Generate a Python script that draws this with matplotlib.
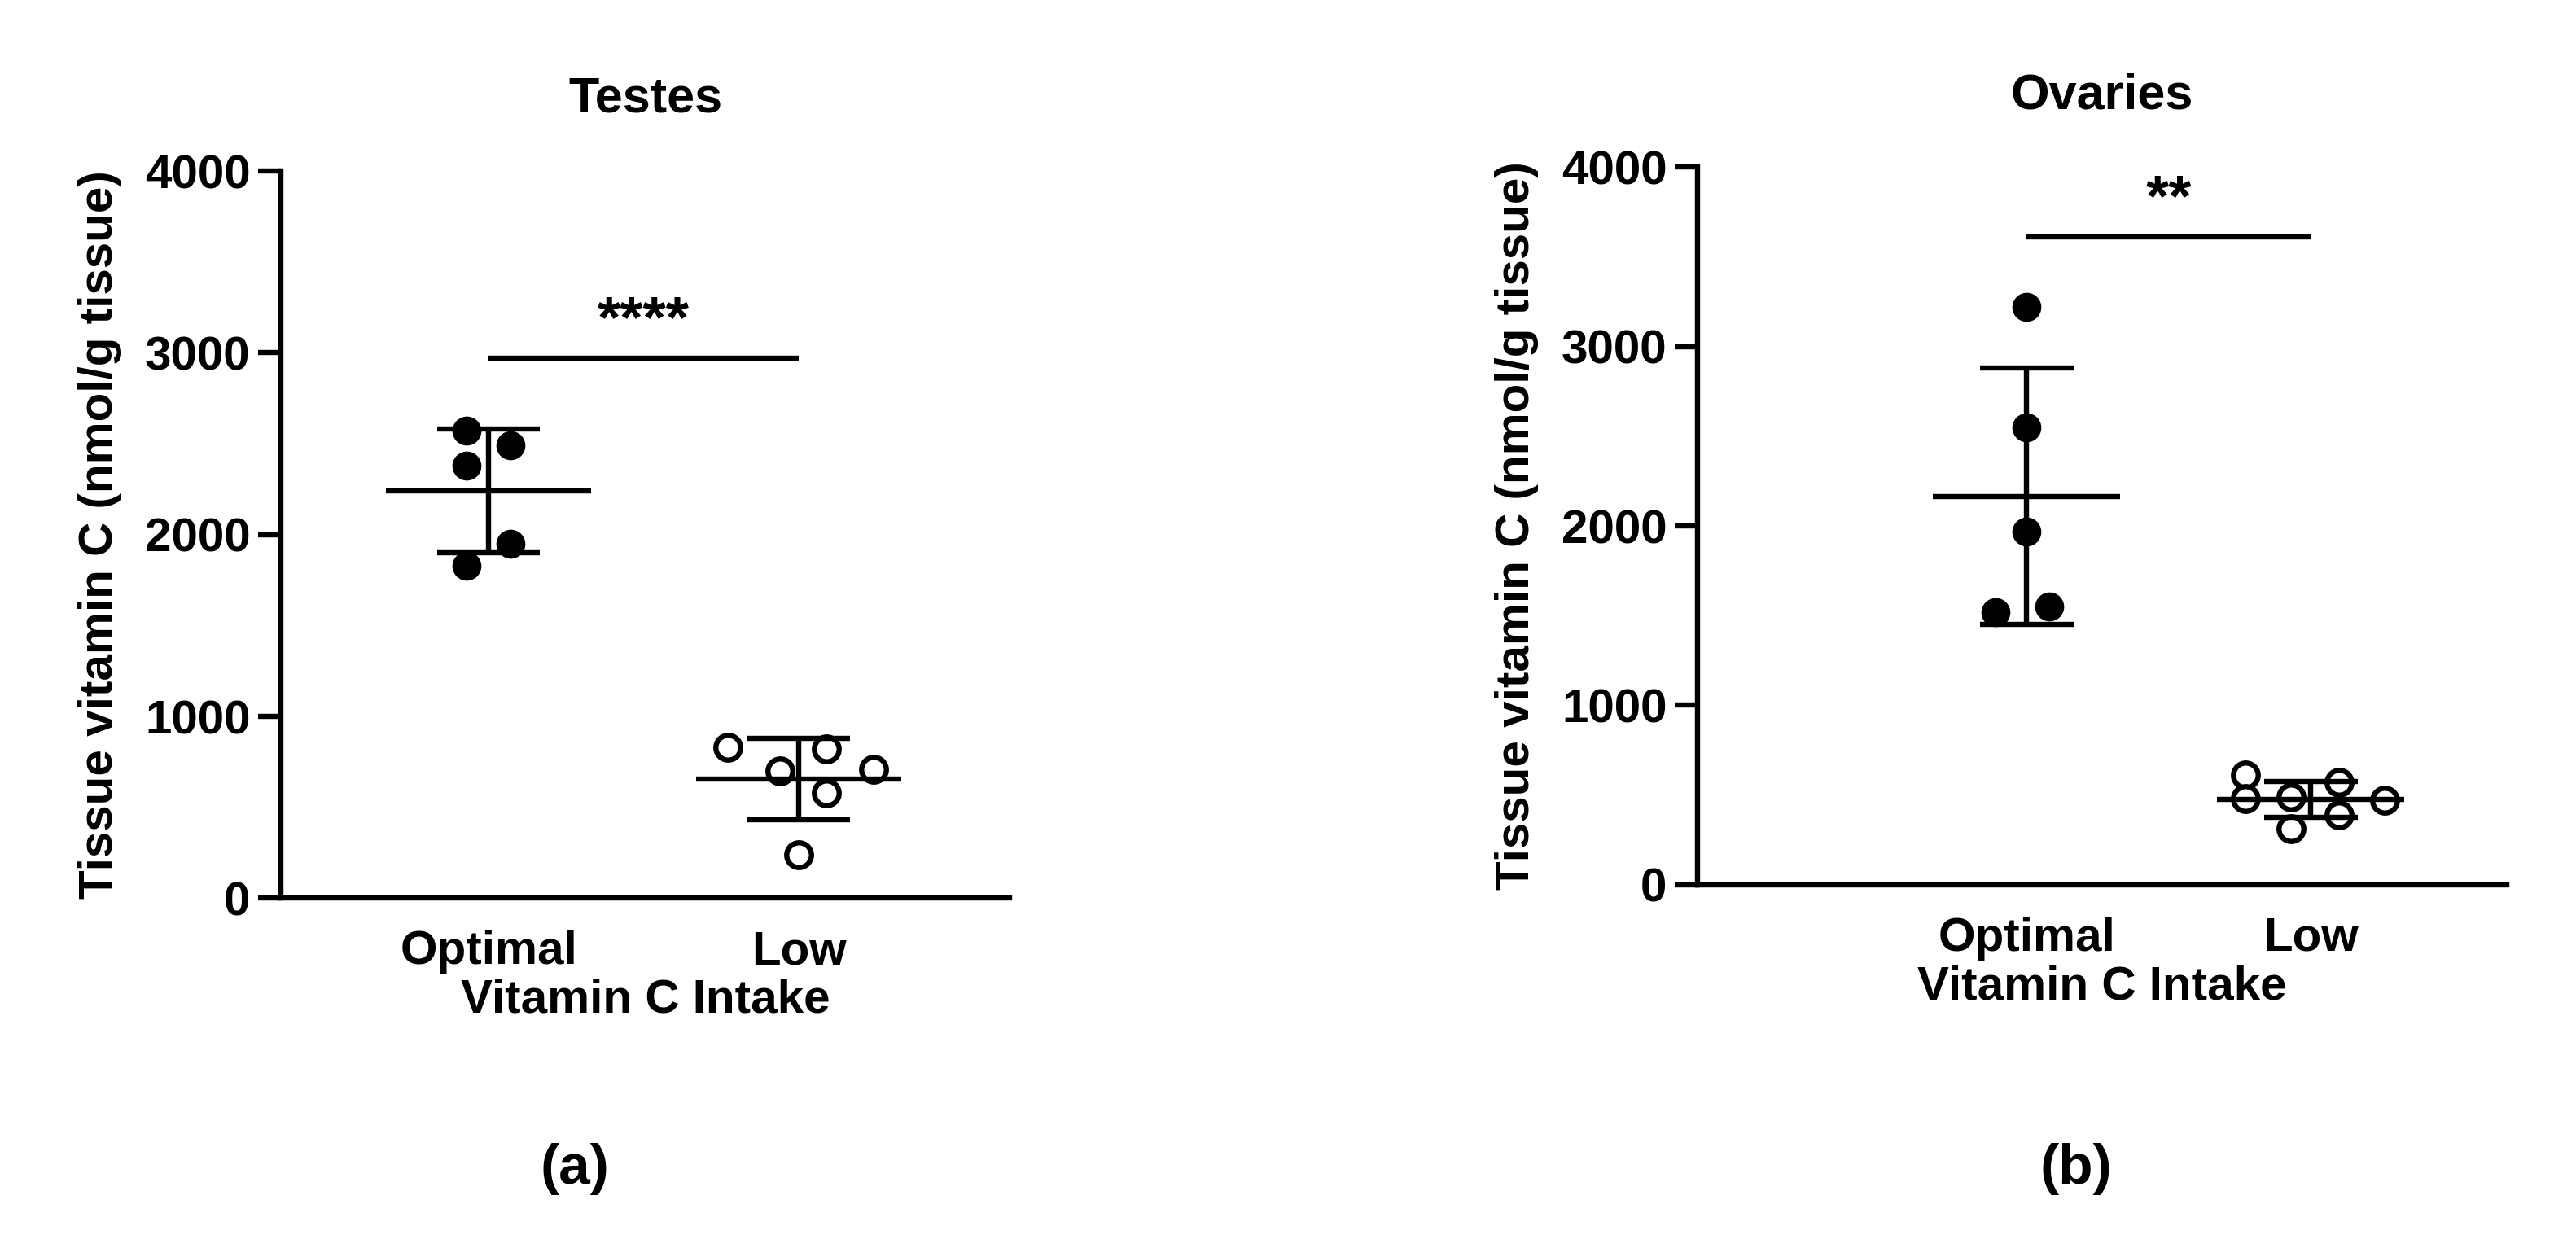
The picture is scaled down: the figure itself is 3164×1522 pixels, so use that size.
import matplotlib
matplotlib.use("Agg")
import matplotlib.pyplot as plt
import numpy as np

plt.rcParams['font.family'] = ['Liberation Sans', 'DejaVu Sans']
plt.rcParams['font.weight'] = 'bold'

groups = ["Optimal", "Low"]
testes_opt = [2570, 2490, 2380, 1950, 1830]
testes_opt_x = [-0.07, 0.07, -0.07, 0.07, -0.07]
testes_low = [830, 700, 820, 710, 580, 240]
testes_low_x = [-0.23, -0.06, 0.09, 0.24, 0.09, 0.0]
testes_mean = [2240, 655]
testes_sd = [340, 225]

ovar_opt = [3220, 2550, 1970, 1520, 1550]
ovar_opt_x = [0.0, 0.0, 0.0, -0.11, 0.08]
ovar_low = [610, 480, 490, 310, 570, 390, 470]
ovar_low_x = [-0.23, -0.23, -0.07, -0.07, 0.1, 0.1, 0.26]
ovar_mean = [2165, 475]
ovar_sd = [715, 100]

fig = plt.figure(figsize=(15.82, 7.61), dpi=200)
lw = 2.3

def panel(rect, xlim, opt, optx, low, lowx, mean, sd, title, sig_y, sig, tag, tagx):
    ax = fig.add_axes(rect)
    ax.scatter(np.array(optx), opt, s=140, color='black', zorder=3)
    ax.scatter(1 + np.array(lowx), low, s=120, facecolor='white', edgecolor='black', linewidth=2.3, zorder=3)
    for i in range(2):
        ax.hlines(mean[i], i - 0.33, i + 0.33, color='black', lw=lw, zorder=4)
        ax.hlines([mean[i] - sd[i], mean[i] + sd[i]], i - 0.165, i + 0.165, color='black', lw=lw, zorder=4)
        ax.vlines(i, mean[i] - sd[i], mean[i] + sd[i], color='black', lw=lw, zorder=4)
    ax.hlines(sig_y, 0, 1, color='black', lw=lw)
    ax.text(0.5, sig_y + 50, sig, ha='center', va='bottom', fontsize=26, fontweight='bold')
    ax.set_xlim(*xlim)
    ax.set_ylim(0, 4000)
    ax.set_yticks([0, 1000, 2000, 3000, 4000])
    ax.set_xticks([0, 1])
    ax.set_xticklabels(groups)
    ax.tick_params(axis='x', length=0, pad=14, labelsize=21)
    ax.tick_params(axis='y', width=lw, length=10, labelsize=21)
    for s in ['top', 'right']:
        ax.spines[s].set_visible(False)
    for s in ['left', 'bottom']:
        ax.spines[s].set_linewidth(lw)
    ax.set_ylabel("Tissue vitamin C (nmol/g tissue)", fontsize=21, fontweight='bold', labelpad=10)
    ax.set_xlabel("Vitamin C Intake", fontsize=21, fontweight='bold', labelpad=2)
    ax.set_title(title, fontsize=22, fontweight='bold', pad=26)
    fig.text(tagx, 0.045, tag, ha='center', fontsize=25, fontweight='bold')
    return ax

panel([0.109, 0.275, 0.283, 0.587], (-0.67, 1.68), testes_opt, testes_opt_x, testes_low, testes_low_x,
      testes_mean, testes_sd, "Testes", 2970, "****", "(a)", 0.223)
panel([0.659, 0.286, 0.314, 0.579], (-1.16, 1.69), ovar_opt, ovar_opt_x, ovar_low, ovar_low_x,
      ovar_mean, ovar_sd, "Ovaries", 3610, "**", "(b)", 0.806)

fig.savefig("out.png", dpi=200)
